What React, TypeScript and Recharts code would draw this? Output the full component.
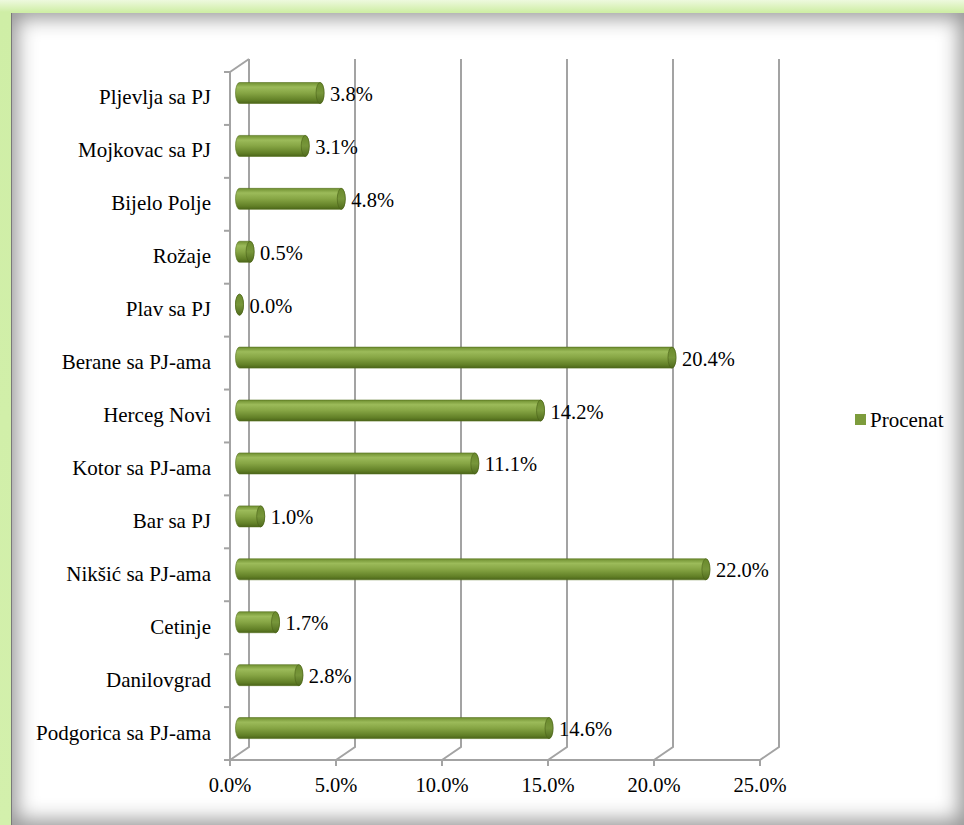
import { Bar, BarChart, CartesianGrid, LabelList, Legend, XAxis, YAxis } from "recharts";

const categories = [
  "Pljevlja sa PJ",
  "Mojkovac sa PJ",
  "Bijelo Polje",
  "Rožaje",
  "Plav sa PJ",
  "Berane sa PJ-ama",
  "Herceg Novi",
  "Kotor sa PJ-ama ",
  "Bar sa PJ",
  "Nikšić sa PJ-ama",
  "Cetinje",
  "Danilovgrad",
  "Podgorica sa PJ-ama",
];
const procenat = [3.8, 3.1, 4.8, 0.5, 0.0, 20.4, 14.2, 11.1, 1.0, 22.0, 1.7, 2.8, 14.6];
const xTicks = [0, 5, 10, 15, 20, 25];
const seriesName = "Procenat";

const data = categories.map((name, i) => ({ name, value: procenat[i] }));

const W = 964;
const H = 825;
const PLOT_TOP = 72;
const PLOT_BOTTOM = 760;
const PLOT_LEFT = 230;
const PLOT_RIGHT = 760;
const DX = 19; // 3d depth
const DY = -13;
const GRID = "#a3a3a3";
const FONT = "Liberation Serif, DejaVu Serif, serif";
const RX = 4;

const pct = (v: number) => `${v.toFixed(1)}%`;

function Cylinder(props: any) {
  const { x, y, width, height } = props;
  const x0 = x + DX / 2;
  const x1 = x0 + Math.max(width, 0);
  const top = y + DY / 2 + 1;
  const ry = height / 2;
  const d = `M${x0},${top} L${x1},${top} A${RX},${ry} 0 0 1 ${x1},${top + height} L${x0},${top + height} A${RX},${ry} 0 0 1 ${x0},${top} Z`;
  return (
    <g>
      <path d={d} fill="url(#cyl)" stroke="#56711f" strokeWidth={0.6} />
      <ellipse cx={x1} cy={top + ry} rx={RX} ry={ry} fill="url(#cap)" stroke="#4a6218" strokeWidth={0.6} />
    </g>
  );
}

function ValueLabel(props: any) {
  const { x, y, width, height, value } = props;
  return (
    <text
      x={x + width + DX / 2 + RX + 6}
      y={y + DY / 2 + height / 2 + 2}
      dominantBaseline="central"
      style={{ fontFamily: FONT, fontSize: 20.5 }}
      fill="#000"
    >
      {pct(value)}
    </text>
  );
}

function CategoryTick(props: any) {
  const { x, y, payload, index } = props;
  const half = payload?.offset ?? (PLOT_BOTTOM - PLOT_TOP) / categories.length / 2;
  const ax = x + 8;
  return (
    <g>
      <line x1={ax - 6} x2={ax} y1={y - half} y2={y - half} stroke={GRID} strokeWidth={2} />
      {index === categories.length - 1 && (
        <line x1={ax - 6} x2={ax} y1={y + half} y2={y + half} stroke={GRID} strokeWidth={2} />
      )}
      <text
        x={ax - 19}
        y={y - 1}
        textAnchor="end"
        dominantBaseline="central"
        style={{ fontFamily: FONT, fontSize: 21 }}
        fill="#000"
      >
        {payload.value}
      </text>
    </g>
  );
}

function XTick(props: any) {
  const { x, y, payload } = props;
  return (
    <text x={x} y={y + 22} textAnchor="middle" style={{ fontFamily: FONT, fontSize: 20.5 }} fill="#000">
      {pct(payload.value)}
    </text>
  );
}

function BackGridLine(props: any) {
  const { x1, y1, y2, index } = props;
  return (
    <g>
      <path
        d={`M${x1},${y2} L${x1 + DX},${y2 + DY} L${x1 + DX},${y1 + DY}`}
        fill="none"
        stroke={GRID}
        strokeWidth={2}
      />
      {index === 0 && (
        <path d={`M${x1},${y1} L${x1 + DX},${y1 + DY}`} fill="none" stroke={GRID} strokeWidth={2} />
      )}
    </g>
  );
}

function LegendBox() {
  return (
    <svg width={110} height={26}>
      <rect x={0} y={7} width={11} height={11} fill="#7d9c3c" />
      <text x={15} y={13} dominantBaseline="central" style={{ fontFamily: FONT, fontSize: 21 }} fill="#000">
        {seriesName}
      </text>
    </svg>
  );
}

export default function App() {
  return (
    <div style={{ position: "absolute", left: 0, top: 0, width: W, height: H, overflow: "hidden" }}>
      <div
        style={{
          position: "absolute",
          inset: 0,
          background: "linear-gradient(180deg, #eef9de 0px, #cfeea6 12px, #d3f0ac 100%)",
        }}
      />
      <div
        style={{
          position: "absolute",
          left: 11,
          top: 13,
          width: W - 11,
          height: H - 13,
          background: "#fff",
          borderLeft: "1px solid #7a7a7a",
          boxShadow: "inset 0 0 20px 5px rgba(0,0,0,0.42)",
          boxSizing: "border-box",
        }}
      />
      <div style={{ position: "absolute", left: 0, top: 0 }}>
        <BarChart
          width={W}
          height={H}
          data={data}
          layout="vertical"
          barSize={21}
          margin={{ top: PLOT_TOP, right: W - PLOT_RIGHT, bottom: H - PLOT_BOTTOM - 40, left: PLOT_LEFT - 220 }}
        >
          <defs>
            <linearGradient id="cyl" x1="0" y1="0" x2="0" y2="1">
              <stop offset="0" stopColor="#6f8f30" />
              <stop offset="0.22" stopColor="#9cbb5a" />
              <stop offset="0.5" stopColor="#86a544" />
              <stop offset="0.85" stopColor="#617f26" />
              <stop offset="1" stopColor="#4b6419" />
            </linearGradient>
            <linearGradient id="cap" x1="0" y1="0" x2="0" y2="1">
              <stop offset="0" stopColor="#6a8a2c" />
              <stop offset="0.5" stopColor="#77963a" />
              <stop offset="1" stopColor="#506b1d" />
            </linearGradient>
          </defs>
          <CartesianGrid horizontal={false} vertical={(p: any) => <BackGridLine {...p} />} />
          <XAxis
            type="number"
            domain={[0, 25]}
            ticks={xTicks}
            height={40}
            axisLine={{ stroke: GRID, strokeWidth: 2 }}
            tickLine={{ stroke: GRID, strokeWidth: 2 }}
            tickSize={6}
            tickMargin={4}
            tick={<XTick />}
            interval={0}
          />
          <YAxis
            type="category"
            dataKey="name"
            width={220}
            axisLine={{ stroke: GRID, strokeWidth: 2 }}
            tickLine={false}
            tick={<CategoryTick />}
            interval={0}
          />
          <Legend
            layout="horizontal"
            verticalAlign="middle"
            align="center"
            content={() => <LegendBox />}
            wrapperStyle={{ position: "absolute", left: 855, top: 407, width: 110 }}
          />
          <Bar dataKey="value" name={seriesName} shape={<Cylinder />} isAnimationActive={false}>
            <LabelList dataKey="value" content={<ValueLabel />} />
          </Bar>
        </BarChart>
      </div>
    </div>
  );
}
